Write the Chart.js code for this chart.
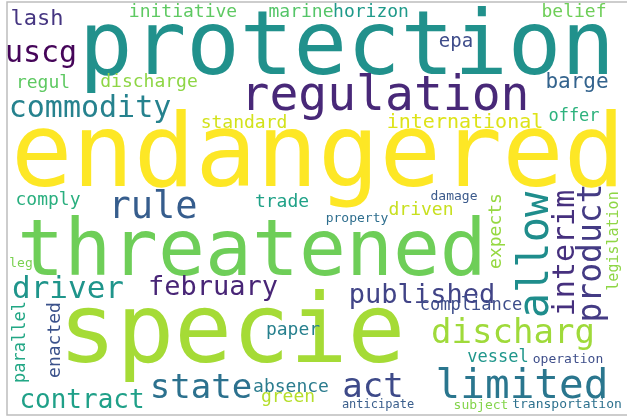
<!DOCTYPE html>
<html>
<head>
<meta charset="utf-8">
<script src="https://cdn.jsdelivr.net/npm/chart.js@4.4.1/dist/chart.umd.min.js"></script>
<style>
  html, body { margin: 0; padding: 0; background: #fff; }
  #wrap { width: 627px; height: 417px; position: relative; }
</style>
</head>
<body>
<div id="wrap"><canvas id="cloud"></canvas></div>
<script>
// words of the cloud and their relative weight (1 = biggest word)
const words = [
  'endangered', 'protection', 'threatened', 'specie', 'regulation',
  'limited', 'allow', 'discharg', 'rule', 'state', 'act', 'driver',
  'product', 'interim', 'commodity', 'february', 'published', 'contract',
  'uscg', 'international', 'lash', 'initiative', 'belief', 'barge',
  'offer', 'horizon', 'marine', 'regul', 'discharge', 'standard',
  'epa', 'trade', 'driven', 'comply', 'parallel', 'vessel', 'enacted',
  'paper', 'expects', 'legislation', 'absence', 'green', 'compliance',
  'leg', 'property', 'operation', 'anticipate', 'subject',
  'transportation', 'damage'
]
const weights = [
  1.02, 0.89, 0.78, 0.96, 0.48,
  0.41, 0.42, 0.34, 0.37, 0.34, 0.34, 0.31,
  0.33, 0.30, 0.30, 0.27, 0.27, 0.26,
  0.30, 0.20, 0.22, 0.175, 0.18, 0.21,
  0.17, 0.18, 0.18, 0.175, 0.18, 0.176,
  0.19, 0.178, 0.18, 0.182, 0.173, 0.173, 0.18,
  0.175, 0.177, 0.147, 0.18, 0.175, 0.165,
  0.133, 0.128, 0.127, 0.124, 0.128,
  0.127, 0.13
]
// placement of each word: [x, baseline y, rotated]  (vertical words: [baseline x, centre y, 1])
const layout = [
  [318, 186, 0], [347, 74, 0], [252, 275, 0], [232, 362, 0], [385, 110, 0],
  [522, 398, 0], [548, 255, 1], [513, 343, 0], [153, 218, 0], [201, 398, 0], [373, 397, 0], [68, 298, 0],
  [601, 253, 1], [574, 253, 1], [90, 117, 0], [213, 295, 0], [422, 303, 0], [82, 408, 0],
  [41, 62, 0], [465, 128, 0], [37, 25, 0], [183, 17, 0], [574, 17, 0], [577, 88, 0],
  [574, 121, 0], [371, 17, 0], [301, 17, 0], [43, 88, 0], [149, 87, 0], [244, 128, 0],
  [456, 47, 0], [282, 207, 0], [421, 215, 0], [48, 205, 0], [25, 342, 1], [498, 362, 0], [60, 340, 1],
  [293, 335, 0], [501, 231, 1], [618, 241, 1], [291, 392, 0], [288, 402, 0], [471, 310, 0],
  [21, 267, 0], [357, 222, 0], [568, 363, 0], [378, 408, 0], [481, 409, 0],
  [567, 408, 0], [454, 200, 0]
]
const colors = [
  '#fde725', '#21918c', '#6ece58', '#a5db36', '#482878',
  '#2a768e', '#1f8d8c', '#9fda3a', '#365d8d', '#2c718e', '#3e4a89', '#1f958b',
  '#443b84', '#46307e', '#26828e', '#482576', '#414487', '#1fa088',
  '#450559', '#dde318', '#453581', '#5ec962', '#6ece58', '#33638d',
  '#2db27d', '#1f9a8a', '#54c568', '#5ec962', '#8ed645', '#d2e21b',
  '#3e4c8a', '#1fa187', '#c8e020', '#2aaf7f', '#22a785', '#1f968b', '#3b528b',
  '#27808e', '#95d840', '#8ed645', '#2b7c8e', '#b5de2b', '#3d4d8a',
  '#7ad151', '#2e6e8e', '#3e4e8a', '#3a5e8c', '#84d44b',
  '#2d718e', '#3b5a8c'
]

const points = layout.map(l => ({ x: l[0], y: l[1] }))

const wordPlugin = {
  id: 'wordPlugin',
  beforeDraw(chart) {
    const ctx = chart.ctx
    const x = chart.scales.x, y = chart.scales.y
    ctx.save()
    ctx.strokeStyle = '#bdbdbd'
    ctx.lineWidth = 1.5
    ctx.beginPath()
    ctx.moveTo(x.getPixelForValue(700), y.getPixelForValue(2))
    ctx.lineTo(x.getPixelForValue(7), y.getPixelForValue(2))
    ctx.lineTo(x.getPixelForValue(7), y.getPixelForValue(415))
    ctx.lineTo(x.getPixelForValue(700), y.getPixelForValue(415))
    ctx.stroke()
    ctx.restore()
  },
  afterDatasetsDraw(chart) {
    const ctx = chart.ctx
    const meta = chart.getDatasetMeta(0)
    meta.data.forEach((pt, i) => {
      ctx.save()
      ctx.fillStyle = colors[i]
      ctx.font = Math.round(weights[i] * 100) + 'px "DejaVu Sans Mono"'
      ctx.textAlign = 'center'
      ctx.textBaseline = 'alphabetic'
      ctx.translate(pt.x, pt.y)
      if (layout[i][2]) ctx.rotate(-Math.PI / 2)
      ctx.fillText(words[i], 0, 0)
      ctx.restore()
    })
  }
}

new Chart(document.getElementById('cloud'), {
  type: 'scatter',
  data: {
    datasets: [{
      label: 'words',
      data: points,
      pointRadius: 0,
      pointHoverRadius: 0
    }]
  },
  options: {
    responsive: true,
    maintainAspectRatio: false,
    animation: false,
    layout: { padding: 0 },
    plugins: { legend: { display: false }, tooltip: { enabled: false } },
    scales: {
      x: { type: 'linear', min: 0, max: 627, display: false },
      y: { type: 'linear', min: 0, max: 417, reverse: true, display: false }
    }
  },
  plugins: [wordPlugin]
})
</script>
</body>
</html>
